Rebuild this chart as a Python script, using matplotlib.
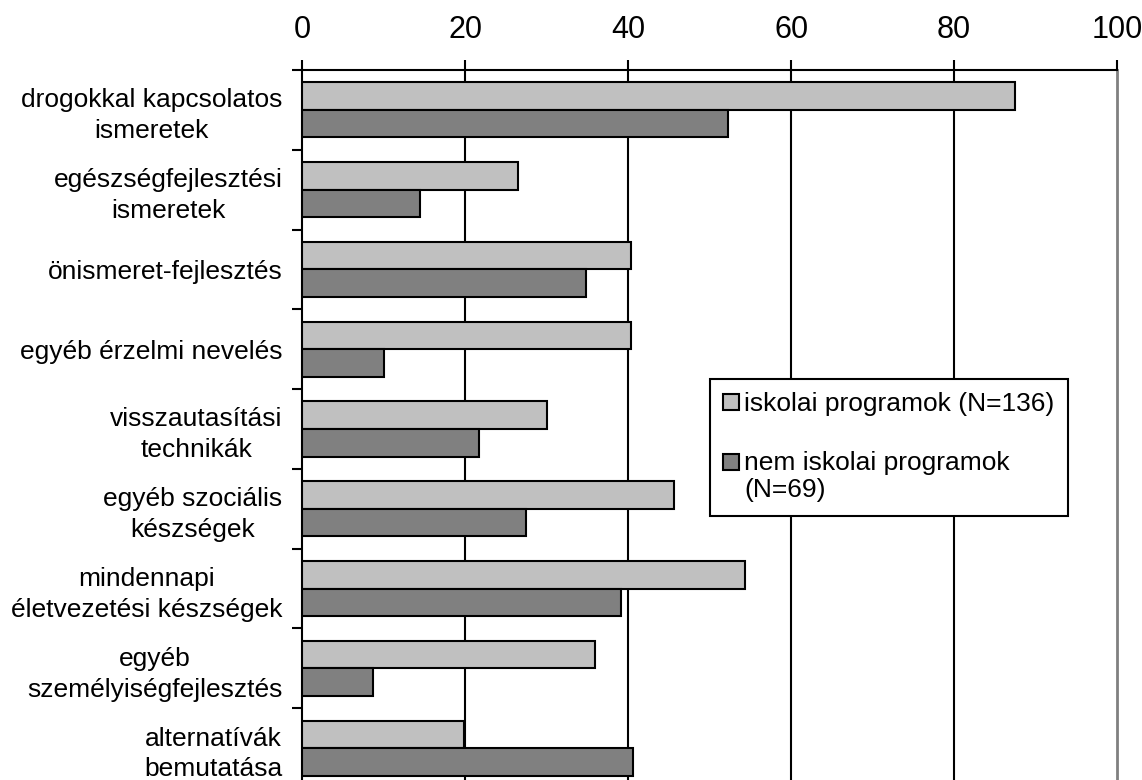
import numpy as np
import matplotlib.pyplot as plt
from matplotlib.patches import Patch, Rectangle
from matplotlib.legend_handler import HandlerPatch

plt.rcParams['font.family'] = ['Liberation Sans', 'DejaVu Sans']

# topics covered by prevention programmes (% of programmes)
categories = [
    "drogokkal kapcsolatos\nismeretek",
    "egészségfejlesztési\nismeretek",
    "önismeret-fejlesztés",
    "egyéb érzelmi nevelés",
    "visszautasítási\ntechnikák",
    "egyéb szociális\nkészségek",
    "mindennapi\néletvezetési készségek",
    "egyéb\nszemélyiségfejlesztés",
    "alternatívák\nbemutatása",
]
school = [87.5, 26.5, 40.4, 40.4, 30.1, 45.6, 54.4, 36.0, 19.9]
non_school = [52.2, 14.5, 34.8, 10.1, 21.7, 27.5, 39.1, 8.7, 40.6]
series_labels = ["iskolai programok (N=136)", "nem iskolai programok\n(N=69)"]
x_ticks = [0, 20, 40, 60, 80, 100]

LIGHT = "#c0c0c0"
DARK = "#808080"
FS = 19

fig = plt.figure(figsize=(11.42, 7.8), dpi=100)
ax = fig.add_axes([0.2645, -0.0103, 0.7137, 0.9206])

y = np.arange(len(categories))
h = 0.345
ax.barh(y - h / 2, school, height=h, color=LIGHT, edgecolor="black", linewidth=1.5, zorder=3)
ax.barh(y + h / 2, non_school, height=h, color=DARK, edgecolor="black", linewidth=1.5, zorder=3)

ax.set_xlim(0, 100)
ax.set_ylim(len(categories) - 0.5, -0.5)

# value axis on top
ax.xaxis.tick_top()
ax.set_xticks(x_ticks)
ax.set_xticklabels([str(t) for t in x_ticks], fontsize=22)
ax.tick_params(axis="x", direction="out", length=7, width=1.5, pad=11)

for v in x_ticks[1:-1]:
    ax.axvline(v, color="black", linewidth=1.5, zorder=1)

# category boundaries as ticks, names centred between them
ax.set_yticks(np.arange(len(categories) + 1) - 0.5)
ax.set_yticklabels([])
ax.set_yticks(y, minor=True)
ax.set_yticklabels(categories, minor=True, fontsize=FS, multialignment="center", linespacing=1.35)
ax.tick_params(axis="y", which="major", direction="out", length=7, width=1.5)
ax.tick_params(axis="y", which="minor", length=0, pad=14)

ax.spines["top"].set_linewidth(1.5)
ax.spines["left"].set_linewidth(1.5)
ax.spines["bottom"].set_visible(False)
ax.spines["right"].set_color("#808080")
ax.spines["right"].set_linewidth(2)


def top_line_square(legend, orig_handle, xdescent, ydescent, width, height, fontsize):
    # sit the key next to the first line of a two-line label
    return Rectangle((-xdescent, -ydescent + 0.55 * fontsize), width, height)


handles = [Patch(facecolor=LIGHT, edgecolor="black", linewidth=1.5),
           Patch(facecolor=DARK, edgecolor="black", linewidth=1.5)]
leg = ax.legend(handles, series_labels, loc="upper left", bbox_to_anchor=(0.5006, 0.5696),
                fontsize=FS, frameon=True, fancybox=False, framealpha=1,
                edgecolor="black", handlelength=0.6, handleheight=0.6,
                handletextpad=0.2, labelspacing=1.3, borderpad=0.5, borderaxespad=0,
                handler_map={handles[1]: HandlerPatch(patch_func=top_line_square)})
leg.get_frame().set_linewidth(1.5)
leg.set_zorder(5)

fig.savefig("out.png", dpi=100)
